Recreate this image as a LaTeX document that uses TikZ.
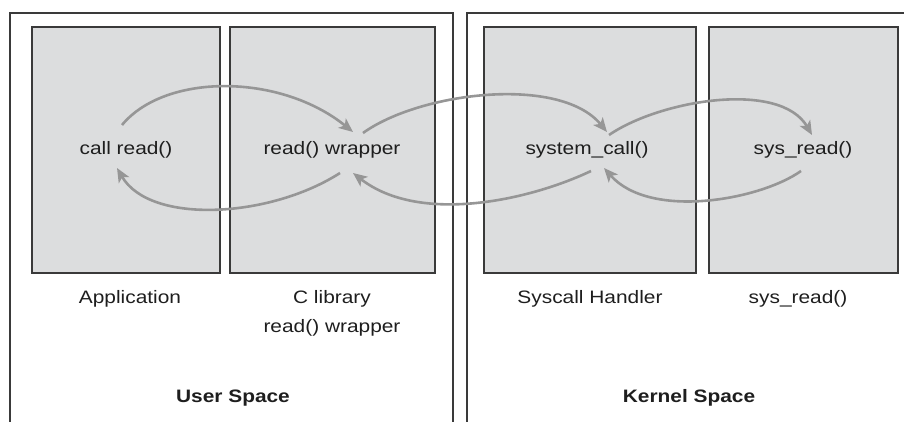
\documentclass[tikz,border=0pt]{standalone}
\usepackage{fontspec}
\setmainfont{Liberation Sans}[FakeStretch=1.16]
\usetikzlibrary{arrows.meta}
\definecolor{boxfill}{HTML}{DCDDDE}
\definecolor{boxline}{HTML}{3A3A3A}
\definecolor{arrowgray}{HTML}{969696}
\definecolor{txt}{HTML}{1E1E1E}
\tikzset{
  space/.style={draw=boxline, line width=2.4pt},
  inner/.style={draw=boxline, fill=boxfill, line width=2pt},
  lbl/.style={text=txt, font=\fontsize{18}{21}\selectfont, inner sep=0pt, align=center},
  title/.style={text=txt, font=\fontsize{18}{21}\selectfont\bfseries, inner sep=0pt},
  flow/.style={draw=arrowgray, line width=2.6pt, -{Stealth[length=14pt,width=12pt,inset=3.5pt]}},
}
\begin{document}
\begin{tikzpicture}[x=1pt,y=-1pt]
\useasboundingbox (0,0) rectangle (904,422);
% outer spaces
\draw[space] (10,440) -- (10,13) -- (453,13) -- (453,440);
\draw[space] (467,440) -- (467,13) -- (910,13);
% inner boxes
\path[inner] (32,27) rectangle (220,273);
\path[inner] (230,27) rectangle (435,273);
\path[inner] (484,27) rectangle (696,273);
\path[inner] (709,27) rectangle (898,273);
% box texts
\node[lbl] (app) at (126,150) {call read()};
\node[lbl] (wrap) at (332,150) {read() wrapper};
\node[lbl] (sc) at (587,150) {system\_call()};
\node[lbl] (sr) at (803,150) {sys\_read()};
% captions
\node[lbl] (capapp) at (130,299) {Application};
\node[lbl] (caplib) at (332,313) {C library\\[8pt]read() wrapper};
\node[lbl] (capsc) at (590,299) {Syscall Handler};
\node[lbl] (capsr) at (798,299) {sys\_read()};
\node[title] (us) at (233,398) {User Space};
\node[title] (ks) at (689,398) {Kernel Space};
% connector end points
\coordinate (a1s) at (122,125); \coordinate (a1e) at (353,132);
\coordinate (a2s) at (340,173); \coordinate (a2e) at (117,168);
\coordinate (a3s) at (363,133); \coordinate (a3e) at (607,132);
\coordinate (a4s) at (591,171); \coordinate (a4e) at (353,173);
\coordinate (a5s) at (609,135); \coordinate (a5e) at (812,135);
\coordinate (a6s) at (801,171); \coordinate (a6e) at (604,168);
% connectors
\draw[flow] (a1s) .. controls (165,73) and (280,73) .. (a1e);
\draw[flow] (a2s) .. controls (270,218) and (150,225) .. (a2e);
\draw[flow] (a3s) .. controls (420,92) and (560,75) .. (a3e);
\draw[flow] (a4s) .. controls (530,200) and (420,225) .. (a4e);
\draw[flow] (a5s) .. controls (660,100) and (780,80) .. (a5e);
\draw[flow] (a6s) .. controls (760,200) and (650,220) .. (a6e);
\end{tikzpicture}
\end{document}
